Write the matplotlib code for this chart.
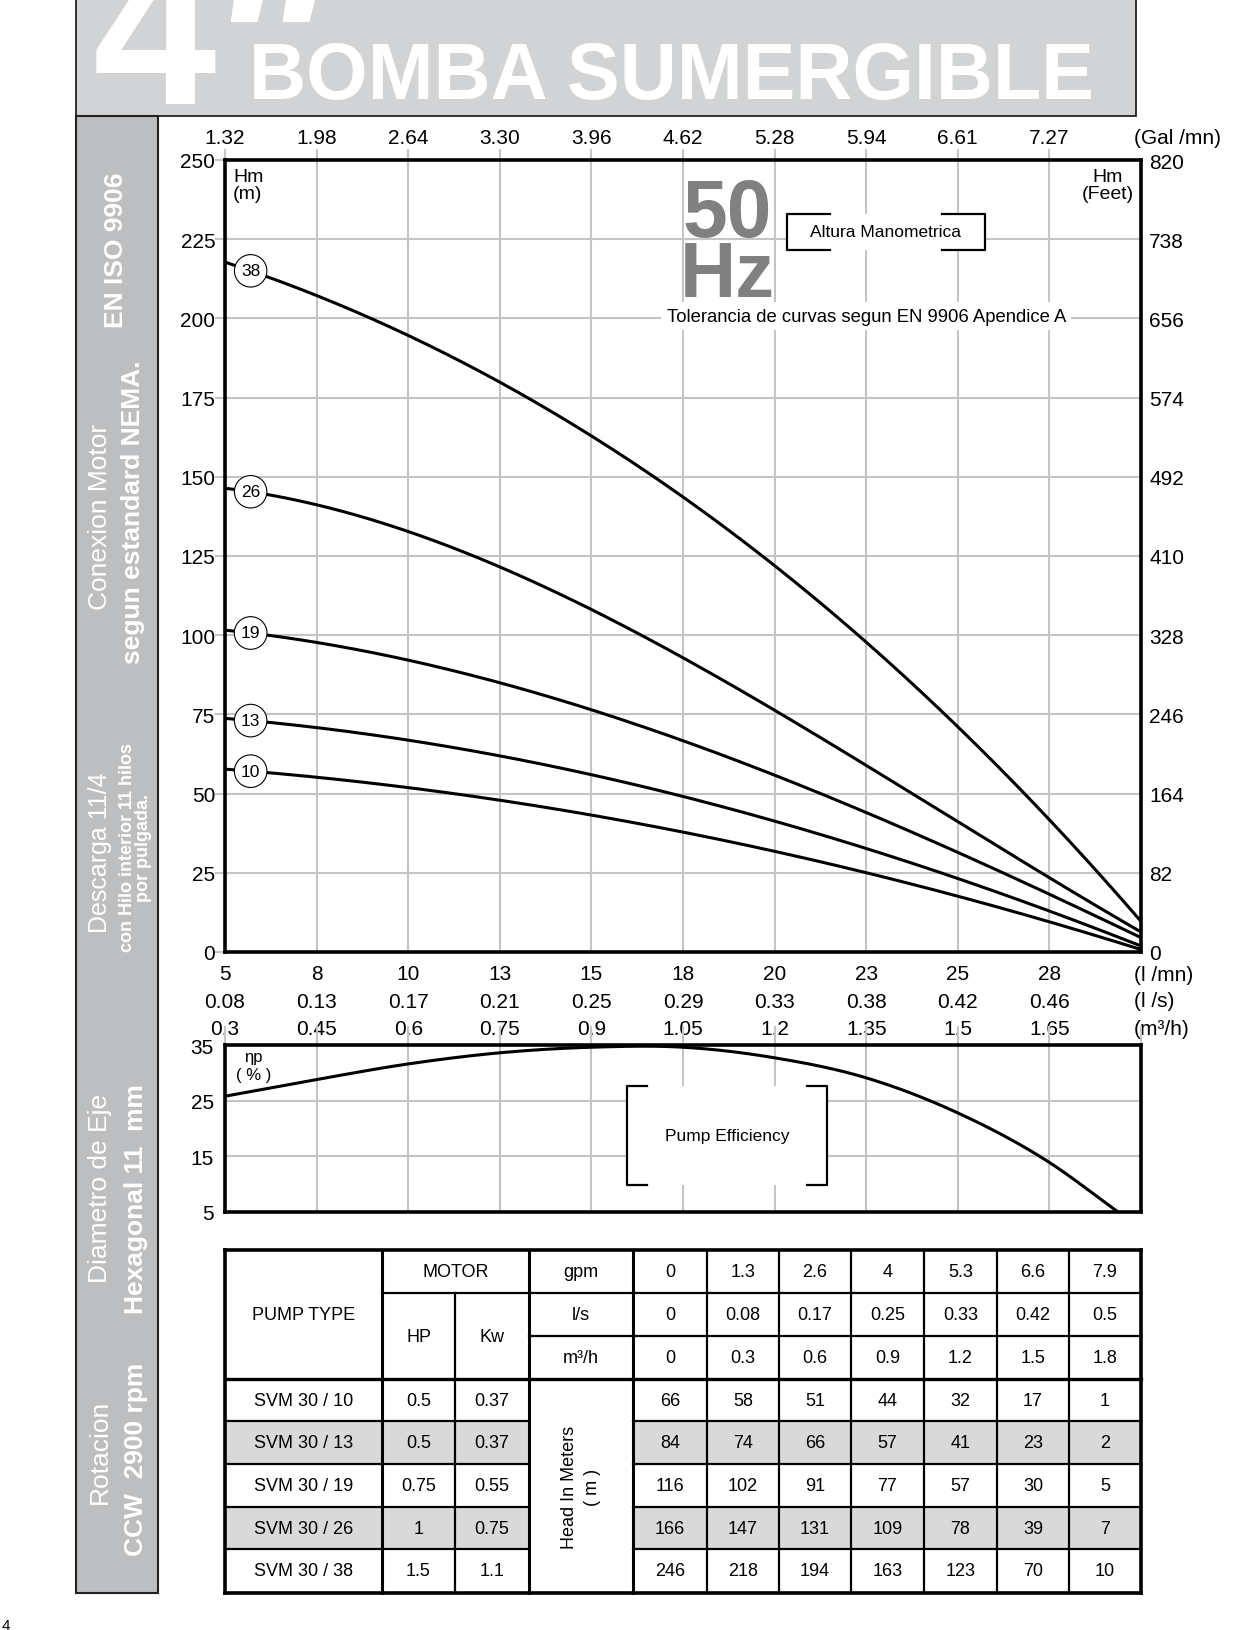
import matplotlib
matplotlib.use('Agg')
import matplotlib.pyplot as plt
import numpy as np
from matplotlib.patches import Rectangle

plt.rcParams['font.family'] = ['Liberation Sans', 'DejaVu Sans']

W, H = 1258, 1631
GRID = '#c4c4c4'
TICK_FS = 15

# flow axis (m3/h) and matching labels in the other units
q_ticks = [0.3, 0.45, 0.6, 0.75, 0.9, 1.05, 1.2, 1.35, 1.5, 1.65]
lmin_labels = ['5', '8', '10', '13', '15', '18', '20', '23', '25', '28']
ls_labels = ['0.08', '0.13', '0.17', '0.21', '0.25', '0.29', '0.33', '0.38', '0.42', '0.46']
m3h_labels = ['0.3', '0.45', '0.6', '0.75', '0.9', '1.05', '1.2', '1.35', '1.5', '1.65']
gal_labels = ['1.32', '1.98', '2.64', '3.30', '3.96', '4.62', '5.28', '5.94', '6.61', '7.27']
head_ticks = [0, 25, 50, 75, 100, 125, 150, 175, 200, 225, 250]
feet_ticks = [0, 82, 164, 246, 328, 410, 492, 574, 656, 738, 820]

# table data (head in meters at each flow)
tbl_gpm = ['0', '1.3', '2.6', '4', '5.3', '6.6', '7.9']
tbl_ls = ['0', '0.08', '0.17', '0.25', '0.33', '0.42', '0.5']
tbl_m3h = ['0', '0.3', '0.6', '0.9', '1.2', '1.5', '1.8']
q_points = [0, 0.3, 0.6, 0.9, 1.2, 1.5, 1.8]
pump_types = ['SVM 30 / 10', 'SVM 30 / 13', 'SVM 30 / 19', 'SVM 30 / 26', 'SVM 30 / 38']
stages = ['10', '13', '19', '26', '38']
motor_hp = ['0.5', '0.5', '0.75', '1', '1.5']
motor_kw = ['0.37', '0.37', '0.55', '0.75', '1.1']
head_10 = [66, 58, 51, 44, 32, 17, 1]
head_13 = [84, 74, 66, 57, 41, 23, 2]
head_19 = [116, 102, 91, 77, 57, 30, 5]
head_26 = [166, 147, 131, 109, 78, 39, 7]
head_38 = [246, 218, 194, 163, 123, 70, 10]
heads = [head_10, head_13, head_19, head_26, head_38]

# pump efficiency
eff_q = [0.3, 0.45, 0.6, 0.75, 0.9, 1.05, 1.2, 1.35, 1.5, 1.65, 1.76]
eff_pct = [25.8, 28.8, 31.6, 33.6, 34.6, 34.6, 32.7, 29.1, 22.8, 13.9, 5.2]
eff_ticks = [5, 15, 25, 35]


def fbox(x0, y0, x1, y1):
    return [x0 / W, 1 - y1 / H, (x1 - x0) / W, (y1 - y0) / H]


def smooth(x, y, n=40):
    # cubic hermite through the points, just to draw a round line
    x = np.asarray(x, float)
    y = np.asarray(y, float)
    m = np.gradient(y, x)
    t = np.linspace(0, 1, n)
    h00 = 2 * t**3 - 3 * t**2 + 1
    h10 = t**3 - 2 * t**2 + t
    h01 = -2 * t**3 + 3 * t**2
    h11 = t**3 - t**2
    xs, ys = [], []
    for i in range(len(x) - 1):
        d = x[i + 1] - x[i]
        xs.append(x[i] + t * d)
        ys.append(h00 * y[i] + h10 * d * m[i] + h01 * y[i + 1] + h11 * d * m[i + 1])
    return np.concatenate(xs), np.concatenate(ys)


fig = plt.figure(figsize=(W / 100, H / 100), dpi=100)

# ---- page background: header band + side column
bg = fig.add_axes([0, 0, 1, 1])
bg.set_xlim(0, W)
bg.set_ylim(H, 0)
bg.axis('off')
bg.add_patch(Rectangle((76, -10), 1060, 127, fc='#d1d3d4', ec='#222222', lw=1.3))
bg.add_patch(Rectangle((76, 117), 82, 1477, fc='#bcbec0', ec='#222222', lw=1.5))
bg.text(93, 104, '4', fontsize=160, fontweight='bold', color='white', va='baseline')
bg.text(203, 132, '"', fontsize=180, fontweight='bold', style='italic', color='white', va='baseline')
bg.text(249, 99, 'BOMBA SUMERGIBLE', fontsize=57, fontweight='bold', color='white', va='baseline')
bg.text(2, 1633, '4', fontsize=11, va='bottom')

side = [
    ('EN ISO 9906', 116, 250, 'bold', 19),
    ('Conexion Motor', 100, 517, 'normal', 19),
    ('segun estandard NEMA.', 133, 512, 'bold', 19),
    ('Descarga 11/4', 100, 853, 'normal', 18),
    ('con Hilo interior 11 hilos', 128, 848, 'bold', 13),
    ('por pulgada.', 144, 848, 'bold', 13),
    ('Diametro de Eje', 100, 1188, 'normal', 19),
    ('Hexagonal 11  mm', 136, 1199, 'bold', 19),
    ('Rotacion', 100, 1452, 'normal', 19),
    ('CCW  2900 rpm', 136, 1459, 'bold', 19),
]
for txt, x, y, wt, fs in side:
    bg.text(x, y, txt, rotation=90, ha='center', va='center', color='white',
            fontweight=wt, fontsize=fs)

# ---- head curves
ax = fig.add_axes(fbox(225, 161, 1141, 953))
ax.set_xlim(0.3, 1.8)
ax.set_ylim(0, 250)
ax.set_xticks(q_ticks + [1.8])
ax.set_xticklabels([f'{a}\n{b}\n{c}' for a, b, c in zip(lmin_labels, ls_labels, m3h_labels)] + [''],
                   linespacing=1.55)
ax.set_yticks(head_ticks)
ax.grid(True, color=GRID, lw=1.5)
ax.set_axisbelow(True)
ax.tick_params(axis='x', length=0, pad=9, labelsize=TICK_FS)
ax.tick_params(axis='y', length=7, width=1.5, color=GRID, labelsize=TICK_FS, pad=0)
for s in ax.spines.values():
    s.set_linewidth(2.6)

qq = np.linspace(0.3, 1.8, 300)
for st, h in zip(stages, heads):
    # smooth fit over the points that fall inside the chart range
    coef = np.polyfit(q_points[1:], h[1:], 3)
    ax.plot(qq, np.polyval(coef, qq), color='black', lw=2.2, zorder=3)
    ax.text(0.342, np.polyval(coef, 0.342), st, fontsize=12.5, ha='center', va='center', zorder=4,
            bbox=dict(boxstyle='circle,pad=0.38', fc='white', ec='black', lw=0.8))

top = ax.secondary_xaxis('top')
top.set_xticks(q_ticks, gal_labels)
top.tick_params(length=8, width=1.5, color=GRID, labelsize=TICK_FS, pad=1)
top.spines['top'].set_visible(False)

right = ax.secondary_yaxis('right', functions=(lambda h: h * 3.28, lambda f: f / 3.28))
right.set_yticks(feet_ticks, [str(v) for v in feet_ticks])
right.tick_params(length=0, pad=6, labelsize=TICK_FS)
right.spines['right'].set_visible(False)

ax.text(0.992, 1.029, '(Gal /mn)', transform=ax.transAxes, fontsize=TICK_FS, ha='left', va='center')
ax.text(0.992, -0.028, '(l /mn)', transform=ax.transAxes, fontsize=TICK_FS, ha='left', va='center')
ax.text(0.992, -0.061, '(l /s)', transform=ax.transAxes, fontsize=TICK_FS, ha='left', va='center')
ax.text(0.992, -0.097, '(m³/h)', transform=ax.transAxes, fontsize=TICK_FS, ha='left', va='center')
ax.text(0.009, 0.99, 'Hm\n(m)', transform=ax.transAxes, fontsize=14, ha='left', va='top',
        linespacing=1.0)
ax.text(0.992, 0.99, 'Hm\n(Feet)', transform=ax.transAxes, fontsize=14, ha='right', va='top',
        multialignment='center', linespacing=1.0)
ax.text(1.122, 226, '50', fontsize=58, fontweight='bold', color='#808080', ha='center', va='baseline')
ax.text(1.122, 207, 'Hz', fontsize=56, fontweight='bold', color='#808080', ha='center', va='baseline')
ax.text(0.70, 0.803, 'Tolerancia de curvas segun EN 9906 Apendice A', transform=ax.transAxes,
        fontsize=13.3, ha='center', va='center',
        bbox=dict(boxstyle='square,pad=0.3', fc='white', ec='none'))

# "Altura Manometrica" bracket box
bx0, bx1, by0, by1, arm = 0.6135, 0.8297, 0.8864, 0.9318, 0.047
ax.add_patch(Rectangle((bx0, by0), bx1 - bx0, by1 - by0, transform=ax.transAxes,
                       fc='white', ec='none', zorder=2))
for xs in ([bx0 + arm, bx0, bx0, bx0 + arm], [bx1 - arm, bx1, bx1, bx1 - arm]):
    ax.plot(xs, [by1, by1, by0, by0], transform=ax.transAxes, color='black', lw=1.6, zorder=3)
ax.text((bx0 + bx1) / 2, (by0 + by1) / 2, 'Altura Manometrica', transform=ax.transAxes,
        fontsize=12.5, ha='center', va='center', zorder=4)

# ---- pump efficiency
ex = fig.add_axes(fbox(225, 1046, 1141, 1213))
ex.set_xlim(0.3, 1.8)
ex.set_ylim(5, 35)
ex.set_xticks(q_ticks + [1.8])
ex.set_yticks(eff_ticks)
ex.grid(True, color=GRID, lw=1.5)
ex.set_axisbelow(True)
ex.tick_params(axis='x', top=True, bottom=False, labelbottom=False, labeltop=False,
               length=14, width=1.5, color=GRID)
ex.tick_params(axis='y', length=0, pad=8, labelsize=TICK_FS)
for s in ex.spines.values():
    s.set_linewidth(2.6)
sx, sy = smooth(eff_q, eff_pct)
ex.plot(sx, sy, color='black', lw=2.2, zorder=3)
ex.text(0.031, 0.934, 'ηp', transform=ex.transAxes, fontsize=12, ha='center', va='center')
ex.text(0.031, 0.826, '( % )', transform=ex.transAxes, fontsize=12, ha='center', va='center')

px0, px1, py0, py1, parm = 0.439, 0.657, 0.162, 0.754, 0.022
ex.add_patch(Rectangle((px0, py0), px1 - px0, py1 - py0, transform=ex.transAxes,
                       fc='white', ec='none', zorder=2))
for xs in ([px0 + parm, px0, px0, px0 + parm], [px1 - parm, px1, px1, px1 - parm]):
    ex.plot(xs, [py1, py1, py0, py0], transform=ex.transAxes, color='black', lw=1.6, zorder=3)
ex.text((px0 + px1) / 2, (py0 + py1) / 2, 'Pump Efficiency', transform=ex.transAxes,
        fontsize=12.5, ha='center', va='center', zorder=4)

# ---- data table
tb = fig.add_axes(fbox(225, 1251, 1141, 1594))
tb.set_xlim(225, 1141)
tb.set_ylim(1594, 1251)
tb.axis('off')
cx = [225, 382, 455, 529, 633, 707, 779, 851, 924, 997, 1069, 1141]
ry = [1251, 1294, 1337, 1380, 1422, 1465, 1508, 1550, 1594]
fs_t = 13

for i in (1, 3):
    r0, r1 = ry[3 + i], ry[4 + i]
    tb.add_patch(Rectangle((cx[0], r0), cx[3] - cx[0], r1 - r0, fc='#d9d9d9', ec='none'))
    tb.add_patch(Rectangle((cx[4], r0), cx[11] - cx[4], r1 - r0, fc='#d9d9d9', ec='none'))


def hl(y, x0, x1, lw=1.6):
    tb.plot([x0, x1], [y, y], color='black', lw=lw, clip_on=False, solid_capstyle='projecting')


def vl(x, y0, y1, lw=1.6):
    tb.plot([x, x], [y0, y1], color='black', lw=lw, clip_on=False, solid_capstyle='projecting')


hl(ry[1], cx[1], cx[3])
hl(ry[1], cx[3], cx[11])
hl(ry[2], cx[3], cx[11])
for y in ry[4:8]:
    hl(y, cx[0], cx[3])
    hl(y, cx[4], cx[11])
hl(ry[3], cx[0], cx[11], 2.4)
hl(ry[0], cx[0], cx[11], 2.6)
hl(ry[8], cx[0], cx[11], 2.6)
vl(cx[0], ry[0], ry[8], 2.6)
vl(cx[11], ry[0], ry[8], 2.6)
vl(cx[1], ry[0], ry[8], 2.2)
vl(cx[2], ry[1], ry[8], 1.6)
vl(cx[3], ry[0], ry[8], 2.2)
vl(cx[4], ry[0], ry[8], 2.2)
for x in cx[5:11]:
    vl(x, ry[0], ry[8], 1.6)


def ctext(x0, x1, y0, y1, s, **kw):
    tb.text((x0 + x1) / 2, (y0 + y1) / 2, s, ha='center', va='center', fontsize=fs_t, **kw)


ctext(cx[0], cx[1], ry[0], ry[3], 'PUMP TYPE')
ctext(cx[1], cx[3], ry[0], ry[1], 'MOTOR')
ctext(cx[1], cx[2], ry[1], ry[3], 'HP')
ctext(cx[2], cx[3], ry[1], ry[3], 'Kw')
for r, (unit, vals) in enumerate(zip(['gpm', 'l/s', 'm³/h'], [tbl_gpm, tbl_ls, tbl_m3h])):
    ctext(cx[3], cx[4], ry[r], ry[r + 1], unit)
    for c, v in enumerate(vals):
        ctext(cx[4 + c], cx[5 + c], ry[r], ry[r + 1], v)
for r in range(5):
    y0, y1 = ry[3 + r], ry[4 + r]
    ctext(cx[0], cx[1], y0, y1, pump_types[r])
    ctext(cx[1], cx[2], y0, y1, motor_hp[r])
    ctext(cx[2], cx[3], y0, y1, motor_kw[r])
    for c, v in enumerate(heads[r]):
        ctext(cx[4 + c], cx[5 + c], y0, y1, str(v))
ctext(cx[3], cx[4], ry[3], ry[8], 'Head In Meters\n( m )', rotation=90, linespacing=1.4)

fig.savefig('out.png', dpi=100)
